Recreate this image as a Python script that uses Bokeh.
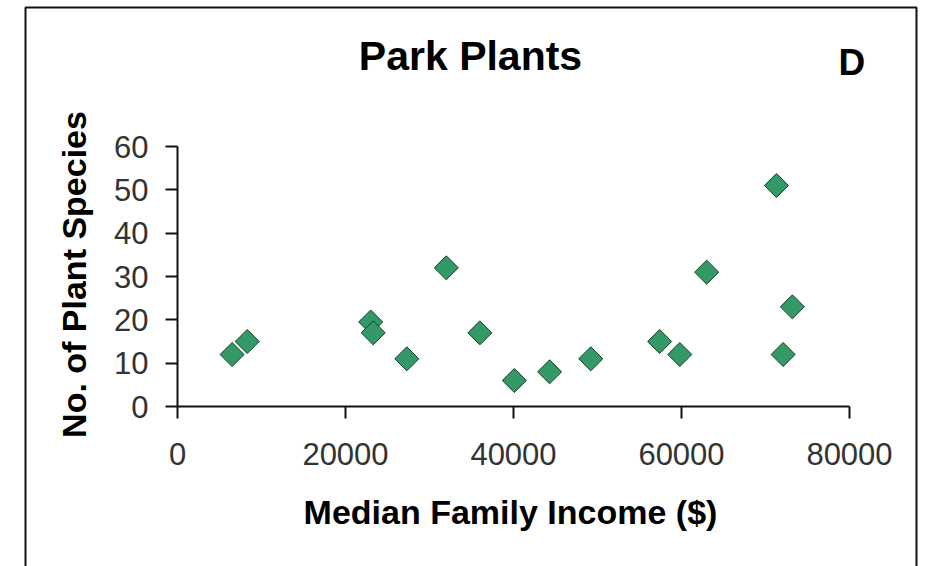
from bokeh.plotting import figure
from bokeh.models import Range1d, Label, PolyAnnotation, FixedTicker
from bokeh.embed import file_html
from bokeh.resources import INLINE
import numpy as np

# Park survey: median family income of the neighbourhood vs. plant species found
income = [6500, 8300, 23000, 23300, 27300, 32000, 36000, 40100,
          44300, 49200, 57400, 59800, 63000, 71300, 72100, 73200]
species = [12, 15, 19.5, 17, 11, 32, 17, 6,
           8, 11, 15, 12, 31, 51, 12, 23]

x_ticks = [0, 20000, 40000, 60000, 80000]
y_ticks = [0, 10, 20, 30, 40, 50, 60]

W, H = 932, 566
# pixel box of the plotting area (0..XMAX, 0..YMAX) inside the canvas
LEFT, RIGHT, TOP, BOTTOM = 177, 849, 146, 406
XMAX, YMAX = 80000, 60

kx = XMAX / (RIGHT - LEFT)       # data units per pixel
ky = YMAX / (BOTTOM - TOP)


def dx(px):
    return (px - LEFT) * kx


def dy(py):
    return (BOTTOM - py) * ky


# the frame fills the whole canvas; axes sit at fixed positions inside it
p = figure(width=W, height=H, output_backend="svg", toolbar_location=None,
           x_range=Range1d(dx(0), dx(W)), y_range=Range1d(dy(H), dy(0)),
           min_border=0)
p.outline_line_color = None
p.grid.visible = False
p.background_fill_color = "white"
p.border_fill_color = "white"

for ax, ticks, top in ((p.xaxis[0], x_ticks, XMAX), (p.yaxis[0], y_ticks, YMAX)):
    ax.fixed_location = 0
    ax.bounds = (0, top)
    ax.ticker = FixedTicker(ticks=ticks)
    ax.minor_tick_line_color = None
    ax.major_tick_in = 0
    ax.major_tick_out = 12
    ax.axis_line_width = 2
    ax.major_tick_line_width = 2
    ax.axis_line_color = "#111111"
    ax.major_tick_line_color = "#111111"
    ax.major_label_text_font = "Liberation Sans"
    ax.major_label_text_font_size = "31px"
    ax.major_label_text_color = "#333333"
    ax.axis_label = None
p.xaxis.major_label_standoff = 24
p.yaxis.major_label_standoff = 17

p.scatter(income, species, marker="square", angle=np.pi / 4, size=17,
          fill_color="#339966", line_color="#163d24", line_width=1)

# outer chart border (open at the bottom)
p.add_layout(PolyAnnotation(xs=[dx(25), dx(25), dx(916), dx(916)],
                            ys=[dy(620), dy(7), dy(7), dy(620)],
                            fill_color=None, line_color="#111111",
                            line_alpha=1.0, line_width=2))


def text(px, py, s, size, **kw):
    p.add_layout(Label(x=dx(px), y=dy(py), text=s, text_baseline="alphabetic",
                       text_font="Liberation Sans", text_font_style="bold",
                       text_font_size=size, text_color="#000000", **kw))


text(470, 55, "Park Plants", "41px", text_align="center")
text(838, 62, "D", "37px", text_align="left")
text(510, 511, "Median Family Income ($)", "34px", text_align="center")
text(73, 274, "No. of Plant Species", "34px", text_align="center", angle=np.pi / 2)

open("out.html", "w").write(file_html(p, INLINE))
